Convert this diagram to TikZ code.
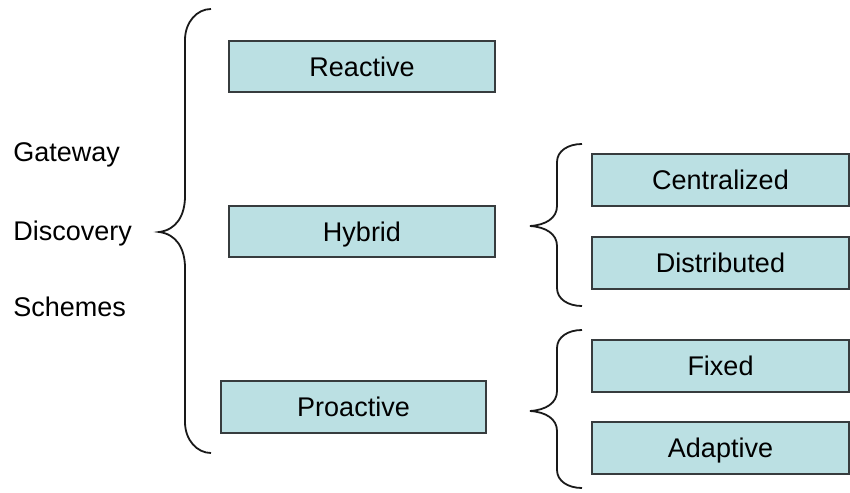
\documentclass[tikz,border=0pt]{standalone}
\usepackage{fontspec}
\setmainfont{Liberation Sans}
\usetikzlibrary{positioning,calc}
\definecolor{boxfill}{RGB}{187,224,227}
\definecolor{boxline}{RGB}{55,60,62}

\begin{document}
\begin{tikzpicture}[x=0.5pt,y=-0.5pt,font=\fontsize{13.5}{16}\selectfont,
 scheme/.style={draw=boxline,line width=1pt,fill=boxfill,minimum height=25.5pt,
   text height=9.7pt,text depth=0pt,inner sep=0pt,align=center},
 label/.style={anchor=base west,inner sep=0pt},
 curl/.style={line width=0.9pt,black!90}]
\useasboundingbox (0,0) rectangle (850,492);
\node[label] (gw) at (13,161) {Gateway};
\node[label] (ds) at (13,240) {Discovery};
\node[label] (sc) at (13,316) {Schemes};
\node[scheme,minimum width=133pt] (react) at (362,66.5) {Reactive};
\node[scheme,minimum width=133pt] (hyb) at (362,231.5) {Hybrid};
\node[scheme,minimum width=132.5pt,minimum height=26pt] (proact) at (353.5,407) {Proactive};
\node[scheme,minimum width=128.5pt,minimum height=26pt] (cent) at (720.5,180) {Centralized};
\node[scheme,minimum width=128.5pt,minimum height=26pt] (dist) at (720.5,262.5) {Distributed};
\node[scheme,minimum width=128.5pt,minimum height=26pt] (fix) at (720.5,366) {Fixed};
\node[scheme,minimum width=128.5pt,minimum height=26pt] (adapt) at (720.5,448) {Adaptive};
% big brace
\draw[curl] (211,9) .. controls (197,9) and (185,22) .. (185,40) -- (185,196)
  .. controls (185,216) and (176,230) .. (159,232)
  .. controls (176,234) and (185,248) .. (185,268) -- (185,422)
  .. controls (185,440) and (197,453) .. (211,453);
% hybrid brace
\draw[curl] (582,144) .. controls (568,144) and (557,151) .. (557,162) -- (557,206)
  .. controls (557,218) and (546,225) .. (530,226)
  .. controls (546,227) and (557,234) .. (557,246) -- (557,288)
  .. controls (557,299) and (568,306) .. (582,306);
% proactive brace
\draw[curl] (582,330) .. controls (568,330) and (557,337) .. (557,348) -- (557,391)
  .. controls (557,403) and (546,410) .. (530,411)
  .. controls (546,412) and (557,419) .. (557,431) -- (557,470)
  .. controls (557,481) and (568,488) .. (582,488);
\end{tikzpicture}
\end{document}
